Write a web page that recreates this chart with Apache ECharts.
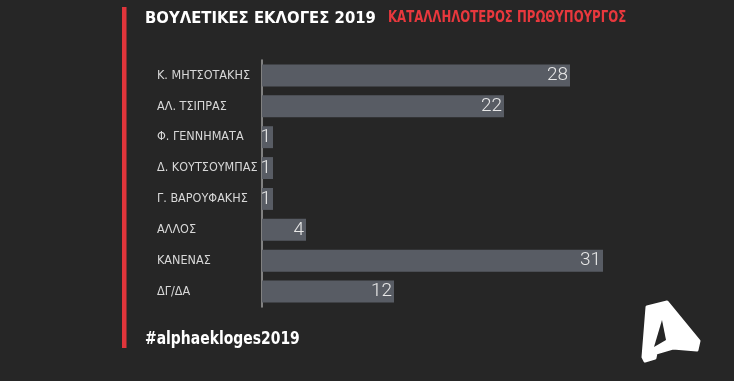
<!DOCTYPE html>
<html><head><meta charset="utf-8">
<script src="https://cdn.jsdelivr.net/npm/echarts@6/dist/echarts.min.js"></script>
<style>html,body{margin:0;padding:0;background:#262626;}#c{width:734px;height:381px;}</style>
</head><body><div id="c"></div>
<script>
const categories = ['Κ. ΜΗΤΣΟΤΑΚΗΣ','ΑΛ. ΤΣΙΠΡΑΣ','Φ. ΓΕΝΝΗΜΑΤΑ','Δ. ΚΟΥΤΣΟΥΜΠΑΣ','Γ. ΒΑΡΟΥΦΑΚΗΣ','ΑΛΛΟΣ','ΚΑΝΕΝΑΣ','ΔΓ/ΔΑ'];
const values = [28,22,1,1,1,4,31,12];
const titleMain = 'ΒΟΥΛΕΤΙΚΕΣ ΕΚΛΟΓΕΣ 2019';
const titleSub = 'ΚΑΤΑΛΛΗΛΟΤΕΡΟΣ ΠΡΩΘΥΠΟΥΡΓΟΣ';
const hashtag = '#alphaekloges2019';

const chart = echarts.init(document.getElementById('c'));
chart.setOption({
  backgroundColor: '#262626',
  animation: false,
  grid: {left: 262, top: 60, width: 440, height: 247},
  xAxis: {type: 'value', min: 0, max: 40, show: false},
  yAxis: {
    type: 'category', inverse: true, data: categories,
    axisLine: {show: true, lineStyle: {color: '#a0a0a0', width: 1.5}},
    axisTick: {show: false},
    axisLabel: {align: 'left', margin: 105, color: '#d8d8d8', fontFamily: 'DejaVu Sans Condensed', fontSize: 12.5, padding: [4, 0, 0, 0]}
  },
  series: [{
    type: 'bar', data: values, barCategoryGap: '29%',
    itemStyle: {color: '#585c64'},
    label: {show: true, position: 'insideRight', distance: 2, color: '#e8e8e8',
      fontFamily: 'Roboto', fontWeight: 300, fontSize: 19}
  }],
  graphic: [
    {type: 'rect', shape: {x: 122, y: 7, width: 4.5, height: 341}, style: {fill: '#e0353b'}},
    {type: 'text', x: 145, y: 10, style: {x: 0, y: 0, text: titleMain, fill: '#ffffff', font: 'bold 16.5px "DejaVu Sans Condensed"'}},
    {type: 'text', x: 388, y: 10, scaleX: 0.815, style: {x: 0, y: 0, text: titleSub, fill: '#e8383d', font: 'bold 16px "DejaVu Sans Condensed"'}},
    {type: 'text', x: 145, y: 331, scaleX: 0.82, style: {x: 0, y: 0, text: hashtag, fill: '#ffffff', font: 'bold 17px "DejaVu Sans"'}},
    {type: 'polygon', shape: {points: [[647,307],[667,302],[699,341],[697,350],[673,348],[656,353],[655,358],[645,361],[643,357]]},
      style: {fill: '#ffffff', stroke: '#ffffff', lineWidth: 3, lineJoin: 'round'}},
    {type: 'polygon', shape: {points: [[662,320],[666,340],[654,347]]}, style: {fill: '#262626'}}
  ]
});
</script></body></html>
